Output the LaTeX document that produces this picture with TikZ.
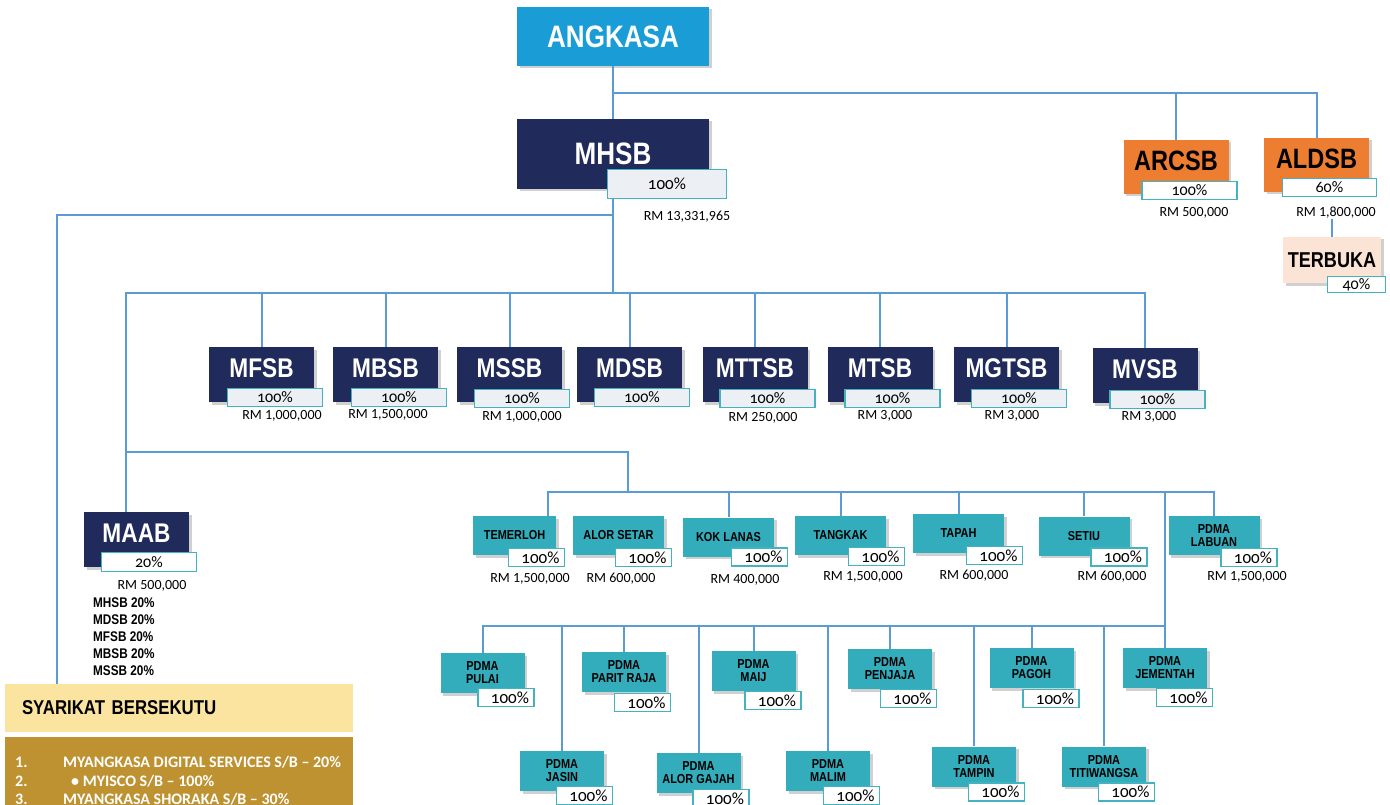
\documentclass[tikz,border=0pt]{standalone}
\usepackage{fontspec}
\setmainfont{Liberation Sans}
\newfontfamily\narrowsf[FakeStretch=0.84]{Liberation Sans}
\newfontfamily\calfont{Carlito}
\newfontfamily\oldnum[Numbers=OldStyle]{Carlito}
\usetikzlibrary{positioning, calc, shadows}
\definecolor{cSky}{HTML}{1A9DD7}
\definecolor{cNavy}{HTML}{202A5B}
\definecolor{cOrange}{HTML}{ED7D31}
\definecolor{cPeach}{HTML}{FBE4D5}
\definecolor{cTeal}{HTML}{33ACBB}
\definecolor{cLine}{HTML}{5B9BD5}
\definecolor{cPctLine}{HTML}{44B3BF}
\definecolor{cPctFill}{HTML}{ECEFF4}
\definecolor{cYellow}{HTML}{FBE49F}
\definecolor{cGold}{HTML}{BE9131}

\begin{document}
\begin{tikzpicture}[x=1pt, y=-1pt, link/.style={draw=cLine, line width=2pt}]
    \tikzset{
      box/.style={
        rectangle, inner sep=0pt,
        drop shadow={shadow xshift=2.5pt, shadow yshift=-2.5pt, opacity=0.3, fill=black!60},
      },
      navybox/.style={
        box, fill=cNavy, text=white, minimum width=105pt, minimum height=55pt,
        font=\narrowsf\bfseries\fontsize{27}{30}\selectfont,
        text height=19pt, text depth=14pt,
      },
      orangebox/.style={
        box, fill=cOrange, minimum width=105pt, minimum height=54pt,
        font=\narrowsf\bfseries\fontsize{28}{30}\selectfont,
        text height=20pt, text depth=13pt,
      },
      tealbox/.style={
        box, fill=cTeal, minimum width=91pt, minimum height=39pt, align=center,
        font=\narrowsf\bfseries\fontsize{13}{13}\selectfont,
      },
      pdmabox/.style={tealbox, minimum width=84pt, minimum height=40pt},
      pct/.style={
        draw=cPctLine, line width=1.5pt, fill=cPctFill, anchor=south east,
        minimum width=95pt, minimum height=18pt, inner sep=0pt,
        font=\oldnum\fontsize{16}{16}\selectfont,
      },
      pctt/.style={
        pct, fill=white, minimum width=56pt, inner xsep=5pt,
        text width=46pt, align=right,
        font=\oldnum\fontsize{17}{17}\selectfont,
      },
      money/.style={inner sep=0pt, font=\calfont\fontsize{14}{16}\selectfont},
    }

    \path[use as bounding box, fill=white] (0,0) rectangle (1390,805);

    % top
    \node[box, fill=cSky, text=white, minimum width=192pt, minimum height=59pt,
          font=\narrowsf\bfseries\fontsize{31}{34}\selectfont,
          text height=22pt, text depth=0pt] (angkasa) at (613,36.5) {ANGKASA};
    \node[navybox, minimum width=192pt, minimum height=70pt,
          font=\narrowsf\bfseries\fontsize{31}{34}\selectfont,
          text height=22pt, text depth=0pt] (mhsb) at (613,154) {MHSB};
    \node[pct, minimum width=119pt, minimum height=29pt,
          font=\oldnum\fontsize{17}{17}\selectfont]
          (mhsb-p) [above left=-10pt and -18pt of mhsb.south east] {100\%};
    \node[money] (mhsb-rm) at (687,217) {RM 13,331,965};

    \node[orangebox] (arcsb) at (1176,167) {ARCSB};
    \node[pct, fill=white] (arcsb-p) [above left=-6pt and -9pt of arcsb.south east] {100\%};
    \node[money] (arcsb-rm) at (1194,213) {RM 500,000};
    \node[orangebox] (aldsb) at (1316.5,165) {ALDSB};
    \node[pct, fill=white, minimum width=94pt] (aldsb-p) [above left=-5pt and -8pt of aldsb.south east] {60\%};
    \node[money] (aldsb-rm) at (1336,213) {RM 1,800,000};
    \node[box, fill=cPeach, minimum width=98pt, minimum height=46pt,
          font=\narrowsf\bfseries\fontsize{21.5}{23}\selectfont,
          text height=15pt, text depth=0pt] (terbuka) at (1332,260) {TERBUKA};
    \node[pct, fill=white, minimum width=58pt, minimum height=16pt]
          (terbuka-p) [above left=-10pt and -5pt of terbuka.south east] {40\%};

    % subsidiaries of MHSB
    \node[navybox] (mfsb)  at (261.5,374.5)  {MFSB};
    \node[navybox] (mbsb)  at (385.5,374.5)  {MBSB};
    \node[navybox] (mssb)  at (509.5,374.5)  {MSSB};
    \node[navybox] (mdsb)  at (629.5,374.5)  {MDSB};
    \node[navybox] (mttsb) at (755,374.5)    {MTTSB};
    \node[navybox] (mtsb)  at (880,374.5)    {MTSB};
    \node[navybox] (mgtsb) at (1006.5,374.5) {MGTSB};
    \node[navybox] (mvsb)  at (1145,375.5)   {MVSB};
    \node[pct] (mfsb-p)  [above left=-5pt and -9pt of mfsb.south east]  {100\%};
    \node[pct] (mbsb-p)  [above left=-5pt and -9pt of mbsb.south east]  {100\%};
    \node[pct] (mssb-p)  [above left=-6pt and -8pt of mssb.south east]  {100\%};
    \node[pct] (mdsb-p)  [above left=-5pt and -8pt of mdsb.south east]  {100\%};
    \node[pct] (mttsb-p) [above left=-6pt and -8pt of mttsb.south east] {100\%};
    \node[pct] (mtsb-p)  [above left=-6pt and -8pt of mtsb.south east]  {100\%};
    \node[pct] (mgtsb-p) [above left=-6pt and -8pt of mgtsb.south east] {100\%};
    \node[pct] (mvsb-p)  [above left=-6pt and -8pt of mvsb.south east]  {100\%};
    \node[money] (mfsb-rm)  at (282,416)  {RM 1,000,000};
    \node[money] (mbsb-rm)  at (388,415)  {RM 1,500,000};
    \node[money] (mssb-rm)  at (522,417)  {RM 1,000,000};
    \node[money] (mttsb-rm) at (763,418)  {RM 250,000};
    \node[money] (mtsb-rm)  at (885,416)  {RM 3,000};
    \node[money] (mgtsb-rm) at (1012,416) {RM 3,000};
    \node[money] (mvsb-rm)  at (1149,417) {RM 3,000};

    % MAAB
    \node[navybox] (maab) at (136.5,539.5) {MAAB};
    \node[pct, fill=white, minimum height=19pt] (maab-p) [above left=-5pt and -8pt of maab.south east] {20\%};
    \node[money] (maab-rm) at (152,586) {RM 500,000};
    \node[anchor=north west, inner sep=0pt, align=left,
          font=\narrowsf\bfseries\fontsize{14}{17}\selectfont] (maab-own) at (93,597.5)
          {MHSB 20\%\\MDSB 20\%\\MFSB 20\%\\MBSB 20\%\\MSSB 20\%};

    % associates
    \node[rectangle, fill=cYellow, minimum width=348pt, minimum height=48pt,
          text width=314pt, inner xsep=17pt, align=left,
          font=\narrowsf\bfseries\fontsize{20}{22}\selectfont] (sb) at (179,708) {SYARIKAT BERSEKUTU};
    \node[rectangle, fill=cGold, anchor=north west, minimum width=348pt, minimum height=80pt] (assoc) at (5,737) {};
    \node[anchor=north west, inner sep=0pt, text=white,
          font=\calfont\bfseries\fontsize{16}{18.5}\selectfont] (assoc-txt) at (15,754.5)
          {\begin{tabular}{@{}p{48pt}@{}l@{}}
           1. & MYANGKASA DIGITAL SERVICES S/B – 20\% \\
           2. & \hspace{8pt}• MYISCO S/B – 100\% \\
           3. & MYANGKASA SHORAKA S/B – 30\%
           \end{tabular}};

    % branches, first row
    \node[tealbox, minimum width=83pt] (temerloh) at (514.5,535.5) {TEMERLOH};
    \node[tealbox] (alorsetar) at (618.5,535.5) {ALOR SETAR};
    \node[tealbox] (koklanas)  at (728.5,537)   {KOK LANAS};
    \node[tealbox] (tangkak)   at (840.5,535.5) {TANGKAK};
    \node[tealbox] (tapah)     at (958.5,533.5) {TAPAH};
    \node[tealbox] (setiu)     at (1084,536)    {SETIU};
    \node[tealbox] (labuan)    at (1214,535.5)  {PDMA\\LABUAN};
    \node[pctt] (temerloh-p)  [above left=-12pt and -9pt of temerloh.south east]  {100\%};
    \node[pctt] (alorsetar-p) [above left=-12pt and -8pt of alorsetar.south east] {100\%};
    \node[pctt] (koklanas-p)  [above left=-10pt and -14pt of koklanas.south east] {100\%};
    \node[pctt] (tangkak-p)   [above left=-11pt and -19pt of tangkak.south east]  {100\%};
    \node[pctt] (tapah-p)     [above left=-12pt and -19pt of tapah.south east]    {100\%};
    \node[pctt] (setiu-p)     [above left=-11pt and -18pt of setiu.south east]    {100\%};
    \node[pctt] (labuan-p)    [above left=-12pt and -18pt of labuan.south east]   {100\%};
    \node[money] (temerloh-rm)  at (530,579)  {RM 1,500,000};
    \node[money] (alorsetar-rm) at (621,579)  {RM 600,000};
    \node[money] (koklanas-rm)  at (745,580)  {RM 400,000};
    \node[money] (tangkak-rm)   at (863,577)  {RM 1,500,000};
    \node[money] (tapah-rm)     at (974,576)  {RM 600,000};
    \node[money] (setiu-rm)     at (1112,577) {RM 600,000};
    \node[money] (labuan-rm)    at (1247,577) {RM 1,500,000};

    % branches, second and third rows
    \node[pdmabox] (pulai)      at (482.5,673)  {PDMA\\PULAI};
    \node[pdmabox] (paritraja)  at (624,672)    {PDMA\\PARIT RAJA};
    \node[pdmabox] (maij)       at (753.5,671)  {PDMA\\MAIJ};
    \node[pdmabox] (penjaja)    at (890,669)    {PDMA\\PENJAJA};
    \node[pdmabox] (pagoh)      at (1031.5,668) {PDMA\\PAGOH};
    \node[pdmabox] (jementah)   at (1165,668)   {PDMA\\JEMENTAH};
    \node[pdmabox] (jasin)      at (562,771)    {PDMA\\JASIN};
    \node[pdmabox] (alorgajah)  at (698.5,773)  {PDMA\\ALOR GAJAH};
    \node[pdmabox] (malim)      at (828,771)    {PDMA\\MALIM};
    \node[pdmabox] (tampin)     at (974,766.5)  {PDMA\\TAMPIN};
    \node[pdmabox] (titiwangsa) at (1104,766.5) {PDMA\\TITIWANGSA};
    \node[pctt] (pulai-p)      [above left=-14pt and -10pt of pulai.south east]     {100\%};
    \node[pctt] (paritraja-p)  [above left=-20pt and -5pt of paritraja.south east]  {100\%};
    \node[pctt] (maij-p)       [above left=-19pt and -6pt of maij.south east]       {100\%};
    \node[pctt] (penjaja-p)    [above left=-19pt and -5pt of penjaja.south east]    {100\%};
    \node[pctt] (pagoh-p)      [above left=-20pt and -6pt of pagoh.south east]      {100\%};
    \node[pctt] (jementah-p)   [above left=-19pt and -6pt of jementah.south east]   {100\%};
    \node[pctt] (jasin-p)      [above left=-14pt and -9pt of jasin.south east]      {100\%};
    \node[pctt] (alorgajah-p)  [above left=-15pt and -9pt of alorgajah.south east]  {100\%};
    \node[pctt] (malim-p)      [above left=-14pt and -10pt of malim.south east]     {100\%};
    \node[pctt] (tampin-p)     [above left=-15pt and -9pt of tampin.south east]     {100\%};
    \node[pctt] (titiwangsa-p) [above left=-15pt and -9pt of titiwangsa.south east] {100\%};

    % connectors
    \coordinate (busa) at (613,93);
    \coordinate (busl) at (613,215);
    \coordinate (busb) at (613,293);
    \coordinate (busc) at (126,452);
    \coordinate (busd) at (628,492);
    \coordinate (buse) at (1165,626);

    \draw[link] (angkasa.south) -- (mhsb.north);
    \draw[link] (busa) -| (arcsb.north)  (busa) -| (aldsb.north);
    \draw[link] (aldsb-rm.south -| terbuka.north) -- (terbuka.north);
    \draw[link] (mhsb-p.south -| mhsb.south) -- (busb);
    \draw[link] (busl) -| ([xshift=52pt]sb.north west);
    \draw[link]
        (busb) -| (mfsb.north)   (busb) -| (mbsb.north)
        (busb) -| (mssb.north)   (busb) -| (mdsb.north)
        (busb) -| (mttsb.north)  (busb) -| (mtsb.north)
        (busb) -| (mgtsb.north)  (busb) -| (mvsb.north);
    \draw[link] (busb) -| (busc) -- (busc |- maab.north);
    \draw[link] (busc) -| (busd);
    \draw[link]
        (busd) -| ([xshift=-8pt]temerloh.north east)
        (busd) -| (koklanas.north)  (busd) -| (tangkak.north)
        (busd) -| (tapah.north)     (busd) -| (setiu.north)
        (busd) -| (labuan.north);
    \draw[link] (busd -| jementah.north) -- (jementah.north);
    \draw[link]
        (buse) -| (pulai.north)      (buse) -| (jasin.north)
        (buse) -| (paritraja.north)  (buse) -| (alorgajah.north)
        (buse) -| (maij.north)       (buse) -| (malim.north)
        (buse) -| (penjaja.north)    (buse) -| (tampin.north)
        (buse) -| (pagoh.north)      (buse) -| (titiwangsa.north);
\end{tikzpicture}
\end{document}
